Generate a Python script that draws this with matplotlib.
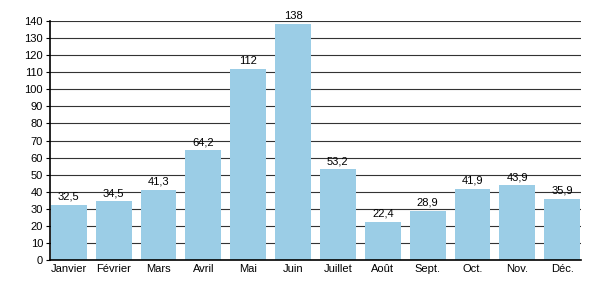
import matplotlib.pyplot as plt

# données mensuelles
mois = ['Janvier', 'Février', 'Mars', 'Avril', 'Mai', 'Juin', 'Juillet',
        'Août', 'Sept.', 'Oct.', 'Nov.', 'Déc.']
valeurs = [32.5, 34.5, 41.3, 64.2, 112, 138, 53.2, 22.4, 28.9, 41.9, 43.9, 35.9]
etiquettes = ['32,5', '34,5', '41,3', '64,2', '112', '138', '53,2',
              '22,4', '28,9', '41,9', '43,9', '35,9']

plt.rcParams['font.family'] = ['Liberation Sans', 'DejaVu Sans']

fig = plt.figure(figsize=(6, 3), dpi=100)
ax = fig.add_axes([0.0833, 0.133, 0.885, 0.797])

x = range(len(mois))
ax.bar(x, valeurs, width=0.8, color='#9bcde6', zorder=2)
for i, (v, t) in enumerate(zip(valeurs, etiquettes)):
    ax.text(i, v + 1.8, t, ha='center', va='bottom', fontsize=8, zorder=3)

ax.set_ylim(0, 140)
ax.set_yticks(range(0, 141, 10))
ax.set_xlim(-0.42, 11.42)
ax.set_xticks(list(x))
ax.set_xticklabels(mois)
ax.yaxis.grid(True, color='#333333', linewidth=0.8, zorder=1)
ax.set_axisbelow(True)
for s in ['top', 'right']:
    ax.spines[s].set_visible(False)
ax.spines['left'].set_linewidth(1.2)
ax.spines['bottom'].set_linewidth(1.2)
ax.tick_params(axis='x', length=0, labelsize=8, pad=3)
ax.tick_params(axis='y', length=3, labelsize=8, pad=2)

fig.savefig('out.png', dpi=100)
